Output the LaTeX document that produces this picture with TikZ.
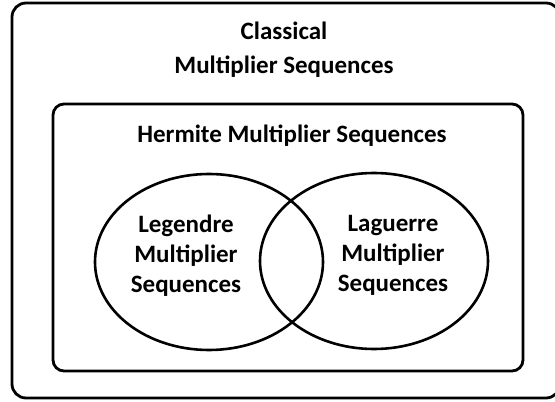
\documentclass[tikz,border=0pt]{standalone}
\usepackage{fontspec}
\setmainfont{Carlito}
\usetikzlibrary{shapes.geometric}
\begin{document}
\begin{tikzpicture}[x=1pt,y=1pt,
  frame/.style={draw, rectangle, line width=2.8pt, inner sep=0pt},
  setellipse/.style={draw, ellipse, line width=2.6pt, inner sep=0pt, minimum width=228pt, minimum height=176pt},
  lbl/.style={font=\bfseries\fontsize{25}{30}\selectfont, align=center, inner sep=0pt, anchor=base}]
\useasboundingbox (0,0) rectangle (555,402);
\clip (0,0) rectangle (555,402);
\fill[white] (0,0) rectangle (555,402);
\node[frame, rounded corners=14pt, minimum width=548pt, minimum height=395pt] (classical) at (286,201.5) {};
\node[frame, rounded corners=11pt, minimum width=470pt, minimum height=267pt] (hermite) at (288,164.5) {};
\node[setellipse] (legendre) at (209,140) {};
\node[setellipse] (laguerre) at (374,141) {};
\node[lbl, font=\bfseries\fontsize{25}{34}\selectfont] (classicaltext) at (284,328) {Classical\\Multiplier Sequences};
\node[lbl] (hermitetext) at (292,259) {Hermite Multiplier Sequences};
\node[lbl] (legendretext) at (186,109) {Legendre\\Multiplier\\Sequences};
\node[lbl] (laguerretext) at (393,110) {Laguerre\\Multiplier\\Sequences};
\end{tikzpicture}
\end{document}
